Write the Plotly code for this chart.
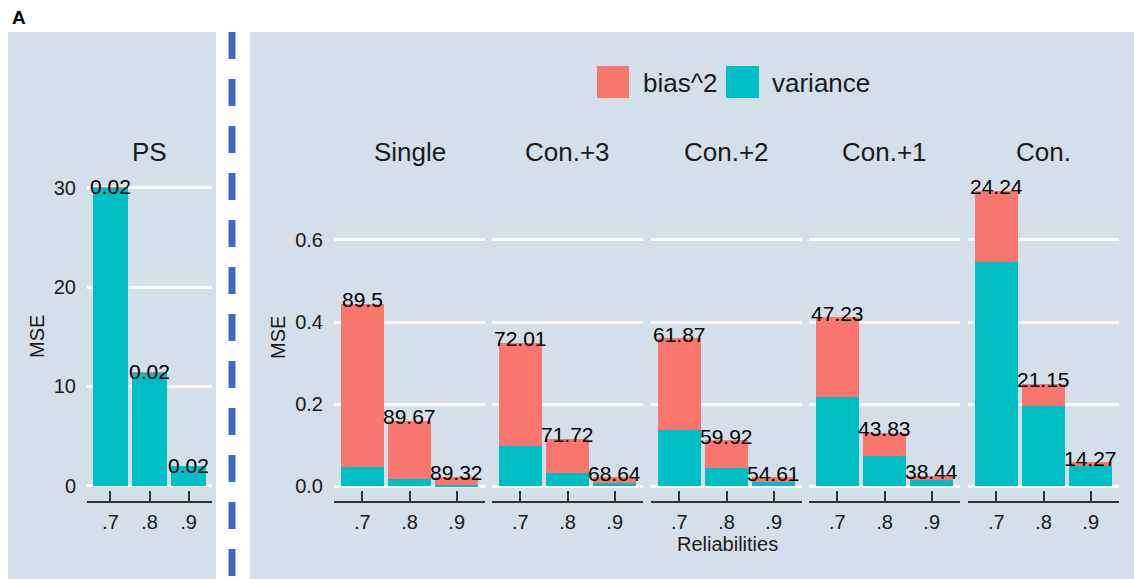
import plotly.graph_objects as go

W, H = 1134, 579

reliabilities = [".7", ".8", ".9"]
methods = ["Single", "Con.+3", "Con.+2", "Con.+1", "Con."]

# PS panel
ps_variance = [29.994, 11.398, 1.970]
ps_bias = [0.006, 0.002, 0.0004]
ps_labels = ["0.02", "0.02", "0.02"]

# Right panels (variance and bias^2 components of MSE)
single_variance = [0.0466, 0.0164, 0.0025]
single_bias = [0.3974, 0.1426, 0.0205]
single_labels = ["89.5", "89.67", "89.32"]

con3_variance = [0.0977, 0.0325, 0.0069]
con3_bias = [0.2513, 0.0825, 0.0151]
con3_labels = ["72.01", "71.72", "68.64"]

con2_variance = [0.1373, 0.0449, 0.0095]
con2_bias = [0.2227, 0.0671, 0.0115]
con2_labels = ["61.87", "59.92", "54.61"]

con1_variance = [0.2169, 0.0730, 0.0154]
con1_bias = [0.1941, 0.0570, 0.0096]
con1_labels = ["47.23", "43.83", "38.44"]

con_variance = [0.5455, 0.1963, 0.0497]
con_bias = [0.1745, 0.0527, 0.0083]
con_labels = ["24.24", "21.15", "14.27"]

right_variance = [single_variance, con3_variance, con2_variance, con1_variance, con_variance]
right_bias = [single_bias, con3_bias, con2_bias, con1_bias, con_bias]
right_labels = [single_labels, con3_labels, con2_labels, con1_labels, con_labels]

RED = "#F8766D"
TEAL = "#00BFC4"
BG = "#D3E0EA"
FONT = "Liberation Sans, Arial, Helvetica, sans-serif"
TXT = "#1a1a1a"


def fx(p):
    return p / W


def fy(p):
    return 1 - p / H


fig = go.Figure()

annotations = []

# ---------- PS panel ----------
fig.add_trace(go.Bar(x=reliabilities, y=ps_variance, marker=dict(color=TEAL, line=dict(width=0)),
                     width=0.9, xaxis="x", yaxis="y", showlegend=False, hoverinfo="skip"))
fig.add_trace(go.Bar(x=reliabilities, y=ps_bias, marker=dict(color=RED, line=dict(width=0)),
                     width=0.9, xaxis="x", yaxis="y", showlegend=False, hoverinfo="skip"))
for j, (v, b, lab) in enumerate(zip(ps_variance, ps_bias, ps_labels)):
    annotations.append(dict(x=j, y=v + b, xref="x", yref="y", text=lab, showarrow=False,
                            yshift=1, font=dict(size=21, color="black", family=FONT)))

# ---------- Right facets ----------
facet_left = [334, 492, 651, 809, 968]
facet_w = 151
for i, m in enumerate(methods):
    k = i + 2
    xa, ya = f"x{k}", f"y{k}"
    fig.add_trace(go.Bar(x=reliabilities, y=right_variance[i], marker=dict(color=TEAL, line=dict(width=0)),
                         width=0.9, xaxis=xa, yaxis=ya, showlegend=False, hoverinfo="skip"))
    fig.add_trace(go.Bar(x=reliabilities, y=right_bias[i], marker=dict(color=RED, line=dict(width=0)),
                         width=0.9, xaxis=xa, yaxis=ya, showlegend=False, hoverinfo="skip"))
    for j, (v, b, lab) in enumerate(zip(right_variance[i], right_bias[i], right_labels[i])):
        annotations.append(dict(x=j, y=v + b, xref=xa, yref=ya, text=lab, showarrow=False,
                                yshift=4, font=dict(size=21, color="black", family=FONT)))
    # strip title
    annotations.append(dict(x=fx(facet_left[i] + facet_w / 2), y=fy(152), xref="paper", yref="paper",
                            text=m, showarrow=False, xanchor="center", yanchor="middle",
                            font=dict(size=26, color=TXT, family=FONT)))

annotations.append(dict(x=fx(149.5), y=fy(152), xref="paper", yref="paper", text="PS", showarrow=False,
                        xanchor="center", yanchor="middle", font=dict(size=26, color=TXT, family=FONT)))

# axis titles
annotations.append(dict(x=fx(37), y=fy(337), xref="paper", yref="paper", text="MSE", textangle=-90,
                        showarrow=False, xanchor="center", yanchor="middle",
                        font=dict(size=20, color=TXT, family=FONT)))
annotations.append(dict(x=fx(278), y=fy(338), xref="paper", yref="paper", text="MSE", textangle=-90,
                        showarrow=False, xanchor="center", yanchor="middle",
                        font=dict(size=20, color=TXT, family=FONT)))
annotations.append(dict(x=fx(727), y=fy(544), xref="paper", yref="paper", text="Reliabilities",
                        showarrow=False, xanchor="center", yanchor="middle",
                        font=dict(size=20, color=TXT, family=FONT)))
# panel tag
annotations.append(dict(x=fx(10), y=fy(17), xref="paper", yref="paper", text="<b>A</b>",
                        showarrow=False, xanchor="left", yanchor="middle",
                        font=dict(size=19, color="black", family=FONT)))
# legend texts
annotations.append(dict(x=fx(641), y=fy(83), xref="paper", yref="paper", text="bias^2",
                        showarrow=False, xanchor="left", yanchor="middle",
                        font=dict(size=26, color=TXT, family=FONT)))
annotations.append(dict(x=fx(770), y=fy(83), xref="paper", yref="paper", text="variance",
                        showarrow=False, xanchor="left", yanchor="middle",
                        font=dict(size=26, color=TXT, family=FONT)))

shapes = [
    dict(type="rect", xref="paper", yref="paper", x0=fx(8), x1=fx(216), y0=fy(579), y1=fy(32),
         fillcolor=BG, line=dict(width=0), layer="below"),
    dict(type="rect", xref="paper", yref="paper", x0=fx(250), x1=fx(1134), y0=fy(579), y1=fy(32),
         fillcolor=BG, line=dict(width=0), layer="below"),
    dict(type="line", xref="paper", yref="paper", x0=fx(232), x1=fx(232), y0=fy(32), y1=fy(579),
         line=dict(color="#4169C4", width=7, dash="27px,20px"), layer="above"),
    dict(type="rect", xref="paper", yref="paper", x0=fx(597), x1=fx(629), y0=fy(98), y1=fy(66),
         fillcolor=RED, line=dict(width=0)),
    dict(type="rect", xref="paper", yref="paper", x0=fx(726), x1=fx(759), y0=fy(98), y1=fy(66),
         fillcolor=TEAL, line=dict(width=0)),
]

xcommon = dict(type="category", range=[-0.6, 2.6], showgrid=False, zeroline=False, showline=True,
               linecolor="#333333", linewidth=2, ticks="inside", ticklen=10, tickwidth=2,
               tickcolor="#333333", tickfont=dict(size=20, color=TXT, family=FONT),
               ticklabelstandoff=2, fixedrange=True)
ycommon = dict(showgrid=True, gridcolor="white", gridwidth=2.5, zeroline=False, showline=False,
               ticks="", tickfont=dict(size=20, color=TXT, family=FONT), ticklabelstandoff=10,
               fixedrange=True)

layout = dict(
    width=W, height=H, margin=dict(l=0, r=0, t=0, b=0),
    paper_bgcolor="white", plot_bgcolor="rgba(0,0,0,0)",
    barmode="stack", showlegend=False,
    annotations=annotations, shapes=shapes,
    font=dict(family=FONT),
)

layout["xaxis"] = dict(xcommon, domain=[fx(87), fx(212)], anchor="y")
layout["yaxis"] = dict(ycommon, domain=[fy(500.7), fy(172.8)], range=[-1.5, 31.5],
                       tickvals=[0, 10, 20, 30], anchor="x")
for i in range(5):
    k = i + 2
    layout[f"xaxis{k}"] = dict(xcommon, domain=[fx(facet_left[i]), fx(facet_left[i] + facet_w)],
                               anchor=f"y{k}")
    layout[f"yaxis{k}"] = dict(ycommon, domain=[fy(500.8), fy(176)], range=[-0.036, 0.756],
                               tickvals=[0, 0.2, 0.4, 0.6], ticktext=["0.0", "0.2", "0.4", "0.6"],
                               showticklabels=(k == 2), anchor=f"x{k}")

fig.update_layout(**layout)
fig.write_html(
    "out.html",
    config={"displayModeBar": False},
    post_script="document.body.style.margin='0';document.body.style.overflow='hidden';",
)
